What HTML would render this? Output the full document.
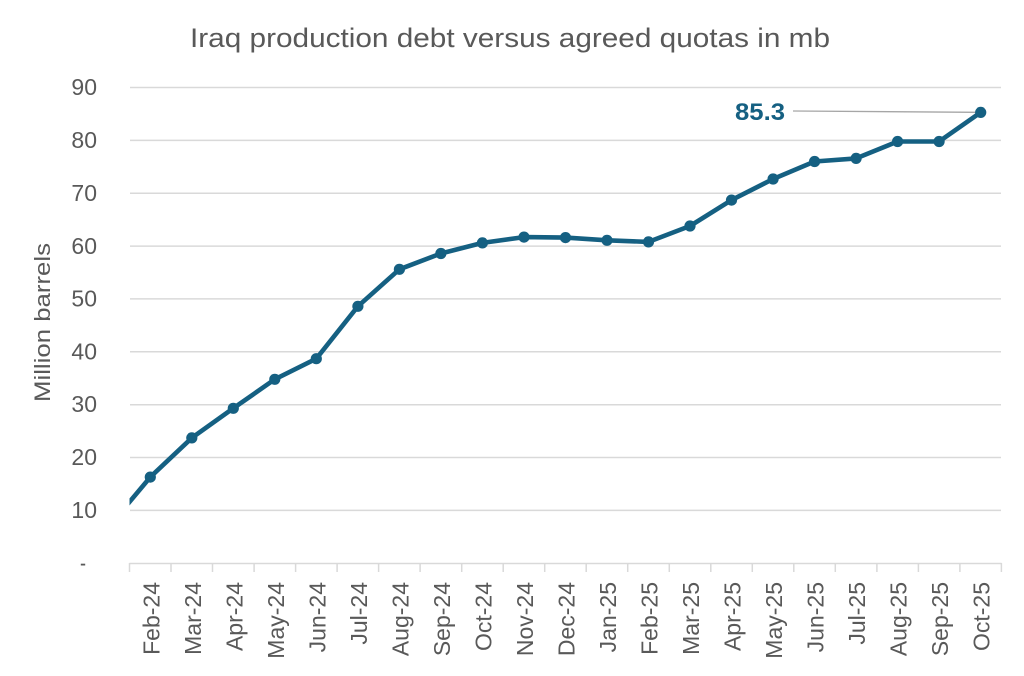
<!DOCTYPE html>
<html>
<head>
<meta charset="utf-8">
<style>
html,body{margin:0;padding:0;background:#fff;}
svg{display:block;}
text{font-family:"Liberation Sans",sans-serif;}
</style>
</head>
<body>
<svg width="1024" height="676" viewBox="0 0 1024 676" xmlns="http://www.w3.org/2000/svg">
<defs>
<clipPath id="pa"><rect x="129.5" y="60" width="872" height="510"/></clipPath>
</defs>
<rect width="1024" height="676" fill="#fff"/>
<!-- title -->
<text x="510" y="47" font-size="27" fill="#595959" text-anchor="middle" textLength="640" lengthAdjust="spacingAndGlyphs">Iraq production debt versus agreed quotas in mb</text>
<!-- gridlines -->
<g stroke="#d9d9d9" stroke-width="1.5">
<line x1="130" y1="87.5" x2="1001" y2="87.5"/>
<line x1="130" y1="140.4" x2="1001" y2="140.4"/>
<line x1="130" y1="193.2" x2="1001" y2="193.2"/>
<line x1="130" y1="246.1" x2="1001" y2="246.1"/>
<line x1="130" y1="298.9" x2="1001" y2="298.9"/>
<line x1="130" y1="351.8" x2="1001" y2="351.8"/>
<line x1="130" y1="404.7" x2="1001" y2="404.7"/>
<line x1="130" y1="457.5" x2="1001" y2="457.5"/>
<line x1="130" y1="510.4" x2="1001" y2="510.4"/>
<line x1="129.5" y1="563.5" x2="1001.5" y2="563.5"/>
</g>
<!-- x tick marks -->
<g stroke="#d9d9d9" stroke-width="1.5">
<line x1="129.5" y1="563" x2="129.5" y2="572"/>
<line x1="171" y1="563" x2="171" y2="572"/>
<line x1="212.5" y1="563" x2="212.5" y2="572"/>
<line x1="254.1" y1="563" x2="254.1" y2="572"/>
<line x1="295.6" y1="563" x2="295.6" y2="572"/>
<line x1="337.1" y1="563" x2="337.1" y2="572"/>
<line x1="378.6" y1="563" x2="378.6" y2="572"/>
<line x1="420.1" y1="563" x2="420.1" y2="572"/>
<line x1="461.7" y1="563" x2="461.7" y2="572"/>
<line x1="503.2" y1="563" x2="503.2" y2="572"/>
<line x1="544.7" y1="563" x2="544.7" y2="572"/>
<line x1="586.2" y1="563" x2="586.2" y2="572"/>
<line x1="627.7" y1="563" x2="627.7" y2="572"/>
<line x1="669.3" y1="563" x2="669.3" y2="572"/>
<line x1="710.8" y1="563" x2="710.8" y2="572"/>
<line x1="752.3" y1="563" x2="752.3" y2="572"/>
<line x1="793.8" y1="563" x2="793.8" y2="572"/>
<line x1="835.3" y1="563" x2="835.3" y2="572"/>
<line x1="876.9" y1="563" x2="876.9" y2="572"/>
<line x1="918.4" y1="563" x2="918.4" y2="572"/>
<line x1="959.9" y1="563" x2="959.9" y2="572"/>
<line x1="1001.4" y1="563" x2="1001.4" y2="572"/>
</g>
<!-- y tick labels -->
<g font-size="23" fill="#595959" text-anchor="end">
<text x="97" y="95">90</text>
<text x="97" y="148">80</text>
<text x="97" y="201">70</text>
<text x="97" y="254">60</text>
<text x="97" y="306.5">50</text>
<text x="97" y="359.5">40</text>
<text x="97" y="412">30</text>
<text x="97" y="465">20</text>
<text x="97" y="518">10</text>
<text x="86" y="571" textLength="6" lengthAdjust="spacingAndGlyphs">-</text>
</g>
<!-- y axis title -->
<text transform="translate(50,322.5) rotate(-90)" font-size="22" fill="#595959" text-anchor="middle" textLength="159" lengthAdjust="spacingAndGlyphs">Million barrels</text>
<!-- x tick labels -->
<g font-size="23" fill="#595959" text-anchor="end">
<text transform="translate(159.3,582) rotate(-90)">Feb-24</text>
<text transform="translate(200.8,582) rotate(-90)">Mar-24</text>
<text transform="translate(242.3,582) rotate(-90)">Apr-24</text>
<text transform="translate(283.8,582) rotate(-90)">May-24</text>
<text transform="translate(325.3,582) rotate(-90)">Jun-24</text>
<text transform="translate(366.9,582) rotate(-90)">Jul-24</text>
<text transform="translate(408.4,582) rotate(-90)">Aug-24</text>
<text transform="translate(449.9,582) rotate(-90)">Sep-24</text>
<text transform="translate(491.4,582) rotate(-90)">Oct-24</text>
<text transform="translate(533,582) rotate(-90)">Nov-24</text>
<text transform="translate(574.5,582) rotate(-90)">Dec-24</text>
<text transform="translate(616,582) rotate(-90)">Jan-25</text>
<text transform="translate(657.5,582) rotate(-90)">Feb-25</text>
<text transform="translate(699,582) rotate(-90)">Mar-25</text>
<text transform="translate(740.5,582) rotate(-90)">Apr-25</text>
<text transform="translate(782.1,582) rotate(-90)">May-25</text>
<text transform="translate(823.6,582) rotate(-90)">Jun-25</text>
<text transform="translate(865.1,582) rotate(-90)">Jul-25</text>
<text transform="translate(906.6,582) rotate(-90)">Aug-25</text>
<text transform="translate(948.1,582) rotate(-90)">Sep-25</text>
<text transform="translate(989.7,582) rotate(-90)">Oct-25</text>
</g>
<!-- leader line -->
<line x1="793" y1="111" x2="976" y2="112.3" stroke="#a6a6a6" stroke-width="1.3"/>
<!-- series -->
<g clip-path="url(#pa)">
<polyline fill="none" stroke="#156082" stroke-width="4.6" stroke-linejoin="round" stroke-linecap="round"
points="108.7,526.7 150.3,477.1 191.8,437.9 233.3,408.3 274.8,379.3 316.3,358.7 357.9,306.3 399.4,269.3 440.9,253.5 482.4,242.9 524,237.1 565.5,237.6 607,240.3 648.5,241.9 690,226 731.5,200.1 773.1,179 814.6,161.5 856.1,158.4 897.6,141.5 939.1,141.5 980.7,112.4"/>
</g>
<g fill="#156082">
<circle cx="150.3" cy="477.1" r="5.6"/>
<circle cx="191.8" cy="437.9" r="5.6"/>
<circle cx="233.3" cy="408.3" r="5.6"/>
<circle cx="274.8" cy="379.3" r="5.6"/>
<circle cx="316.3" cy="358.7" r="5.6"/>
<circle cx="357.9" cy="306.3" r="5.6"/>
<circle cx="399.4" cy="269.3" r="5.6"/>
<circle cx="440.9" cy="253.5" r="5.6"/>
<circle cx="482.4" cy="242.9" r="5.6"/>
<circle cx="524" cy="237.1" r="5.6"/>
<circle cx="565.5" cy="237.6" r="5.6"/>
<circle cx="607" cy="240.3" r="5.6"/>
<circle cx="648.5" cy="241.9" r="5.6"/>
<circle cx="690" cy="226" r="5.6"/>
<circle cx="731.5" cy="200.1" r="5.6"/>
<circle cx="773.1" cy="179" r="5.6"/>
<circle cx="814.6" cy="161.5" r="5.6"/>
<circle cx="856.1" cy="158.4" r="5.6"/>
<circle cx="897.6" cy="141.5" r="5.6"/>
<circle cx="939.1" cy="141.5" r="5.6"/>
<circle cx="980.7" cy="112.4" r="5.6"/>
</g>
<!-- data label -->
<text x="735" y="120" font-size="24" font-weight="bold" fill="#156082" textLength="50" lengthAdjust="spacingAndGlyphs">85.3</text>
</svg>
</body>
</html>
